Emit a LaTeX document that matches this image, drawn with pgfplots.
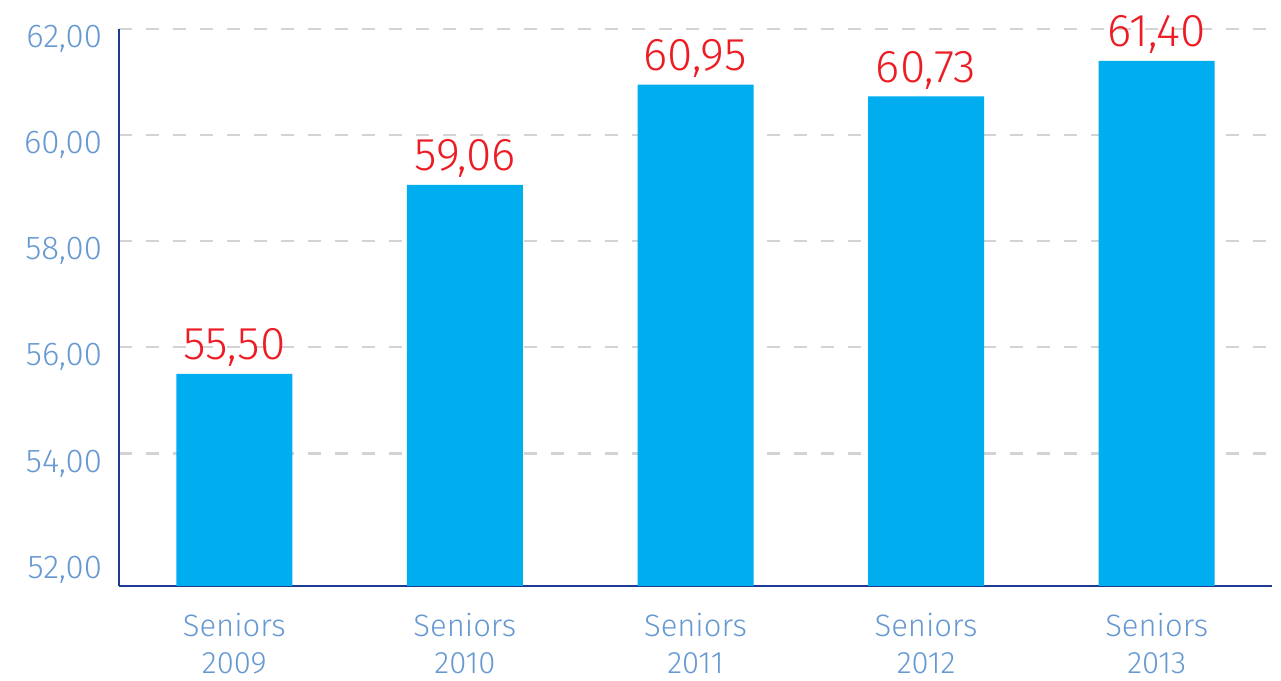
\documentclass[border=0pt]{standalone}
\usepackage{fontspec}
\setmainfont{Fira Sans}[UprightFont=* Light]
\usepackage{pgfplots}
\pgfplotsset{compat=1.18}
\definecolor{barblue}{HTML}{00AEEF}
\definecolor{valred}{HTML}{ED1C24}
\definecolor{ticklab}{HTML}{6699D2}
\definecolor{axisblue}{HTML}{1F3A93}
\definecolor{gridgray}{HTML}{D3D3D3}
\begin{document}
\begin{tikzpicture}
\begin{axis}[
    width=576.5pt, height=278.5pt,
    scale only axis,
    ymin=51.5, ymax=62,
    xmin=-0.5, xmax=4.5,
    ybar, bar width=58pt,
    axis x line*=bottom, axis y line*=left,
    axis line style={axisblue, line width=0.8pt},
    x axis line style={-}, y axis line style={-},
    ytick={54,56,58,60,62},
    extra y ticks={52},
    extra y tick style={grid=none},
    xtick={0,1,2,3,4},
    xticklabels={Seniors\\2009, Seniors\\2010, Seniors\\2011, Seniors\\2012, Seniors\\2013},
    major tick length=0pt,
    ymajorgrids,
    grid style={gridgray, dash pattern=on 6.5pt off 7pt, line width=1.2pt},
    /pgf/number format/.cd, fixed, fixed zerofill, precision=2, use comma, assume math mode=true,
    /pgfplots/.cd,
    yticklabel style={font=\fontsize{16.5}{16.5}\selectfont, text=ticklab, xshift=-5pt, yshift=-5pt},
    xticklabel style={font=\fontsize{15.5}{18.5}\selectfont, text=ticklab, align=center, yshift=-10pt},
    nodes near coords={\pgfmathprintnumber[fixed, fixed zerofill, precision=2, use comma, assume math mode=true]{\pgfplotspointmeta}},
    nodes near coords style={font=\fontsize{23}{23}\selectfont, text=valred},
    clip=false,
]
\addplot[fill=barblue, draw=none] coordinates {(0,55.50) (1,59.06) (2,60.95) (3,60.73) (4,61.40)};
% page margins around the axis, as in the reference
\path (rel axis cs:0,0) ++(-59.5pt,-46.5pt);
\path (rel axis cs:1,1) ++(4.5pt,14.5pt);
\end{axis}
\end{tikzpicture}
\end{document}
